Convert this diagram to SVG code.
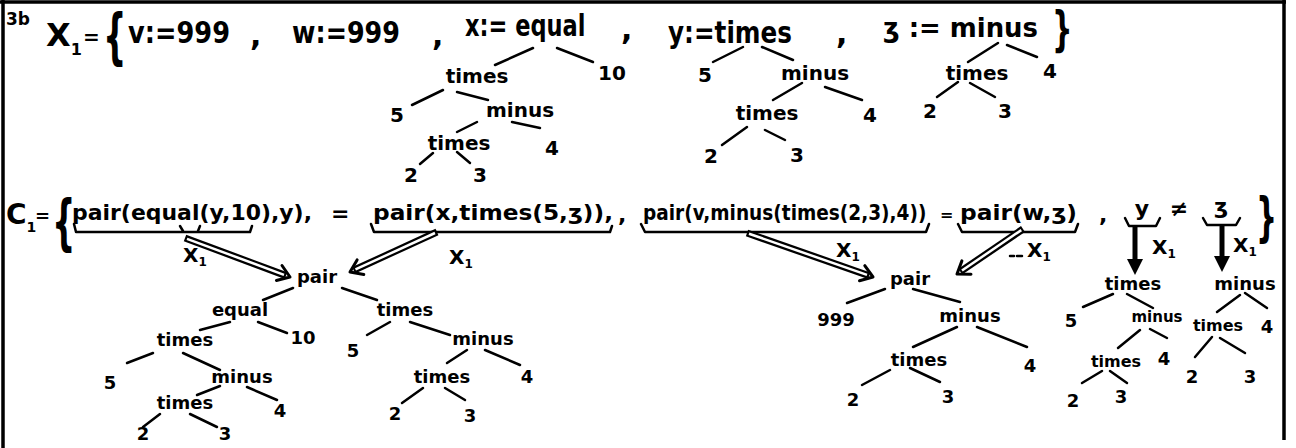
<svg xmlns="http://www.w3.org/2000/svg" width="1296" height="448" viewBox="0 0 1296 448">
<style>
text{font-family:"DejaVu Sans","Liberation Sans",sans-serif;font-weight:bold;fill:#000}
.big{font-size:30px}
.mid{font-size:22px}
.n1{font-size:20px;text-anchor:middle}
.n2{font-size:18px;text-anchor:middle}
.lab{font-size:20px}
.br{font-size:60px}
.e line{stroke:#000;stroke-width:2.5;stroke-linecap:round;fill:none}
.ul{stroke:#000;stroke-width:2.5;fill:none;stroke-linecap:round;stroke-linejoin:round}
.dbl{stroke:#000;stroke-width:7;fill:none;stroke-linecap:butt}
.dblw{stroke:#fff;stroke-width:2.5;fill:none;stroke-linecap:butt}
.hd{stroke:#000;stroke-width:3;fill:none;stroke-linecap:round;stroke-linejoin:round}
.shaft{stroke:#000;stroke-width:5;fill:none}
.tip{fill:#000;stroke:none}
.dash{stroke:#000;stroke-width:2.5;stroke-linecap:round}
.border{stroke:#000;stroke-width:3.5}
</style>

<g id="frame">
<line class="border" x1="0" y1="2" x2="1286" y2="2"/>
<line class="border" x1="3" y1="0" x2="3" y2="448"/>
<line class="border" x1="1284" y1="0" x2="1284" y2="440"/>
</g>

<g id="row1-text">
<text x="6" y="25" style="font-size:17px">3b</text>
<text x="46" y="46" style="font-size:32px">X<tspan dy="9" style="font-size:16px">1</tspan></text>
<text x="83" y="44" style="font-size:20px">=</text>
<text transform="translate(103,57) scale(0.55,1)" class="br">{</text>
<text x="128" y="43" class="big" textLength="102" lengthAdjust="spacingAndGlyphs">v:=999</text>
<text x="250" y="46" class="big">,</text>
<text x="292" y="43" class="big" textLength="108" lengthAdjust="spacingAndGlyphs">w:=999</text>
<text x="432" y="46" class="big">,</text>
<text transform="translate(465,36) scale(0.75,1)" class="big">x:= equal</text>
<text x="621" y="40" class="big">,</text>
<text x="668" y="43" class="big" textLength="124" lengthAdjust="spacingAndGlyphs">y:=times</text>
<text x="836" y="44" class="big">,</text>
<text x="883" y="37" style="font-size:27px" textLength="155" lengthAdjust="spacingAndGlyphs">ʒ := minus</text>
<text transform="translate(1052,46) scale(0.6,1)" style="font-size:48px">}</text>
</g>

<g id="tree-x">
<text class="n1" x="477" y="83">times</text>
<text class="n1" x="612" y="80">10</text>
<text class="n1" x="397" y="122">5</text>
<text class="n1" x="520" y="117">minus</text>
<text class="n1" x="459" y="150">times</text>
<text class="n1" x="552" y="155">4</text>
<text class="n1" x="411" y="182">2</text>
<text class="n1" x="480" y="182">3</text>
</g>
<g id="tree-y">
<text class="n1" x="705" y="82">5</text>
<text class="n1" x="815" y="80">minus</text>
<text class="n1" x="767" y="120">times</text>
<text class="n1" x="870" y="122">4</text>
<text class="n1" x="711" y="163">2</text>
<text class="n1" x="797" y="162">3</text>
</g>
<g id="tree-z">
<text class="n1" x="977" y="80">times</text>
<text class="n1" x="1050" y="78">4</text>
<text class="n1" x="930" y="118">2</text>
<text class="n1" x="1005" y="118">3</text>
</g>

<g id="row2-text">
<text x="6" y="224" style="font-size:28px">C<tspan dy="8" style="font-size:14px">1</tspan></text>
<text x="35" y="222" style="font-size:18px">=</text>
<text transform="translate(52,243) scale(0.55,1)" class="br">{</text>
<text x="72" y="220" class="mid" textLength="240" lengthAdjust="spacingAndGlyphs">pair(equal(y,10),y),</text>
<text x="331" y="221" class="mid">=</text>
<text x="373" y="220" class="mid" textLength="240" lengthAdjust="spacingAndGlyphs">pair(x,times(5,ʒ)),</text>
<text x="618" y="222" class="mid">,</text>
<text transform="translate(643,220) scale(0.842,1)" class="mid">pair(v,minus(times(2,3),4))</text>
<text x="940" y="220" style="font-size:16px">=</text>
<text x="960" y="220" class="mid" textLength="117" lengthAdjust="spacingAndGlyphs">pair(w,ʒ)</text>
<text x="1099" y="222" class="mid">,</text>
<text x="1142" y="216" class="mid" style="text-anchor:middle">y</text>
<text x="1179" y="216" class="mid" style="text-anchor:middle">≠</text>
<text x="1221" y="214" class="mid" style="text-anchor:middle">ʒ</text>
<text transform="translate(1256,236) scale(0.55,1)" style="font-size:54px">}</text>
</g>

<g id="underlines">
<path class="ul" d="M74,224 L76,232 L250,232 L252,226"/>
<path class="ul" d="M180,226 L183,231 M200,226 L198,231"/>
<path class="ul" d="M371,224 L374,232 L610,232 L612,226"/>
<path class="ul" d="M641,224 L645,232 L926,232 L929,224"/>
<path class="ul" d="M958,224 L962,232 L1075,232 L1078,224"/>
<path class="ul" d="M1125,218 L1129,226 L1156,226 L1160,218"/>
<path class="ul" d="M1203,218 L1207,225 L1236,225 L1240,218"/>
</g>

<g id="pair-left">
<text class="n2" x="317" y="283">pair</text>
<text class="n2" x="240" y="316">equal</text>
<text class="n2" x="405" y="316">times</text>
<text class="n2" x="185" y="346">times</text>
<text class="n2" x="303" y="344">10</text>
<text class="n2" x="110" y="389">5</text>
<text class="n2" x="242" y="383">minus</text>
<text class="n2" x="185" y="409">times</text>
<text class="n2" x="280" y="417">4</text>
<text class="n2" x="143" y="440">2</text>
<text class="n2" x="225" y="440">3</text>
<text class="n2" x="353" y="357">5</text>
<text class="n2" x="483" y="345">minus</text>
<text class="n2" x="442" y="383">times</text>
<text class="n2" x="527" y="383">4</text>
<text class="n2" x="395" y="420">2</text>
<text class="n2" x="470" y="422">3</text>
</g>

<g id="pair-right">
<text class="n2" x="910" y="285">pair</text>
<text class="n2" x="836" y="326">999</text>
<text class="n2" x="970" y="322">minus</text>
<text class="n2" x="919" y="366">times</text>
<text class="n2" x="1030" y="372">4</text>
<text class="n2" x="853" y="406">2</text>
<text class="n2" x="948" y="403">3</text>
</g>

<g id="tree-y-inst">
<text class="n2" x="1133" y="290">times</text>
<text class="n2" x="1071" y="327">5</text>
<text class="n2" x="1157" y="322" style="font-size:15px">minus</text>
<text class="n2" x="1116" y="367" style="font-size:16px">times</text>
<text class="n2" x="1164" y="365">4</text>
<text class="n2" x="1073" y="407">2</text>
<text class="n2" x="1121" y="403">3</text>
</g>

<g id="tree-z-inst">
<text class="n2" x="1245" y="290">minus</text>
<text class="n2" x="1218" y="331" style="font-size:16px">times</text>
<text class="n2" x="1267" y="333">4</text>
<text class="n2" x="1192" y="383">2</text>
<text class="n2" x="1250" y="383">3</text>
</g>

<g id="labels">
<text class="lab" x="183" y="262">X<tspan dy="4" style="font-size:12px">1</tspan></text>
<text class="lab" x="449" y="264">X<tspan dy="4" style="font-size:12px">1</tspan></text>
<text class="lab" x="836" y="257">X<tspan dy="4" style="font-size:12px">1</tspan></text>
<text class="lab" x="1027" y="257">X<tspan dy="4" style="font-size:12px">1</tspan></text>
<text class="lab" x="1152" y="254">X<tspan dy="4" style="font-size:12px">1</tspan></text>
<text class="lab" x="1233" y="252">X<tspan dy="4" style="font-size:12px">1</tspan></text>
</g>

<g id="connectors">
<g class="e">
<line x1="533" y1="48" x2="495" y2="65"/>
<line x1="557" y1="48" x2="593" y2="62"/>
<line x1="443" y1="90" x2="412" y2="105"/>
<line x1="457" y1="92" x2="488" y2="100"/>
<line x1="477" y1="122" x2="457" y2="132"/>
<line x1="512" y1="122" x2="540" y2="128"/>
<line x1="433" y1="153" x2="420" y2="164"/>
<line x1="457" y1="152" x2="470" y2="163"/>
<line x1="743" y1="47" x2="713" y2="62"/>
<line x1="762" y1="47" x2="793" y2="60"/>
<line x1="802" y1="83" x2="773" y2="100"/>
<line x1="825" y1="87" x2="862" y2="100"/>
<line x1="747" y1="127" x2="722" y2="145"/>
<line x1="765" y1="130" x2="785" y2="140"/>
<line x1="998" y1="43" x2="968" y2="62"/>
<line x1="1007" y1="45" x2="1037" y2="57"/>
<line x1="958" y1="82" x2="937" y2="97"/>
<line x1="970" y1="83" x2="995" y2="97"/>
<line x1="293" y1="288" x2="263" y2="300"/>
<line x1="342" y1="288" x2="377" y2="300"/>
<line x1="230" y1="322" x2="200" y2="330"/>
<line x1="258" y1="322" x2="287" y2="333"/>
<line x1="153" y1="353" x2="127" y2="363"/>
<line x1="183" y1="353" x2="220" y2="370"/>
<line x1="220" y1="386" x2="197" y2="395"/>
<line x1="247" y1="387" x2="277" y2="400"/>
<line x1="160" y1="414" x2="143" y2="427"/>
<line x1="190" y1="414" x2="217" y2="427"/>
<line x1="390" y1="322" x2="367" y2="335"/>
<line x1="410" y1="322" x2="450" y2="335"/>
<line x1="467" y1="350" x2="447" y2="363"/>
<line x1="485" y1="350" x2="520" y2="365"/>
<line x1="423" y1="388" x2="402" y2="403"/>
<line x1="445" y1="388" x2="465" y2="400"/>
<line x1="885" y1="289" x2="847" y2="303"/>
<line x1="913" y1="289" x2="960" y2="302"/>
<line x1="957" y1="327" x2="913" y2="347"/>
<line x1="977" y1="327" x2="1027" y2="347"/>
<line x1="890" y1="370" x2="862" y2="385"/>
<line x1="910" y1="368" x2="940" y2="382"/>
<line x1="1113" y1="294" x2="1083" y2="307"/>
<line x1="1127" y1="294" x2="1153" y2="308"/>
<line x1="1140" y1="330" x2="1118" y2="348"/>
<line x1="1150" y1="329" x2="1167" y2="338"/>
<line x1="1102" y1="371" x2="1082" y2="383"/>
<line x1="1110" y1="371" x2="1127" y2="383"/>
<line x1="1240" y1="295" x2="1217" y2="312"/>
<line x1="1245" y1="293" x2="1267" y2="308"/>
<line x1="1212" y1="337" x2="1195" y2="357"/>
<line x1="1220" y1="338" x2="1245" y2="353"/>
</g>
<g id="arrows">
<path class="dbl" d="M185,238 L286,275.6"/>
<path class="dblw" d="M187,238.8 L284,274.8"/>
<path class="hd" d="M276.4,280.5 L290,277 L282,265.5"/>

<path class="dbl" d="M437,232 L353.6,270.3"/>
<path class="dblw" d="M435,233 L355.5,269.4"/>
<path class="hd" d="M357.1,259.9 L350,272 L363.8,274.5"/>

<path class="dbl" d="M747,233 L869.2,275.7"/>
<path class="dblw" d="M749,233.7 L867,274.9"/>
<path class="hd" d="M859.5,280.8 L873,277 L864.8,265.6"/>

<path class="dbl" d="M1023,229 L960.3,271.7"/>
<path class="dblw" d="M1021.3,230.1 L962,270.5"/>
<path class="hd" d="M961.9,260.9 L957,274 L971,274.2"/>
<line class="dash" x1="1010" y1="256" x2="1014" y2="256"/>
<line class="dash" x1="1017" y1="256" x2="1022" y2="256"/>

<line class="shaft" x1="1135" y1="227" x2="1135" y2="262"/>
<path class="tip" d="M1127,259 L1143,259 L1135,275 Z"/>
<line class="shaft" x1="1222" y1="226" x2="1222" y2="258"/>
<path class="tip" d="M1214,256 L1230,256 L1222,272 Z"/>
</g>
</g>
</svg>
